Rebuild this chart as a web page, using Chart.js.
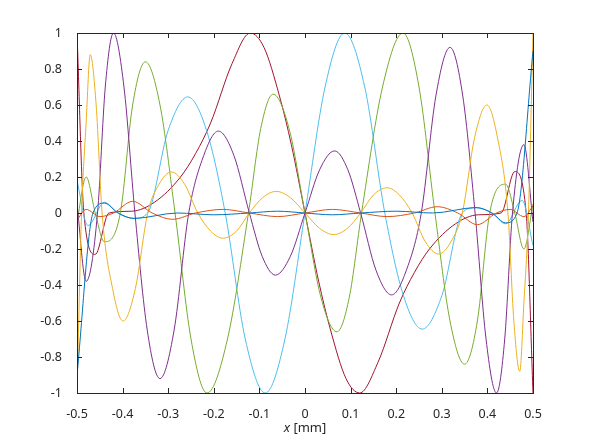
<!DOCTYPE html>
<html>
<head>
<meta charset="utf-8">
<script src="https://cdn.jsdelivr.net/npm/chart.js@4"></script>
<style>
  html, body { margin:0; padding:0; background:#fff; }
  #wrap { width:590px; height:442px; }
</style>
</head>
<body>
<div id="wrap"><canvas id="c" width="590" height="442"></canvas></div>
<script>
// --- datos (x en mm, amplitud normalizada) ---
const xTicks = [-0.5,-0.4,-0.3,-0.2,-0.1,0,0.1,0.2,0.3,0.4,0.5];
const yTicks = [-1,-0.8,-0.6,-0.4,-0.2,0,0.2,0.4,0.6,0.8,1];

const blueX = [-0.5,-0.465,-0.44,-0.41,-0.375,-0.28,-0.2,-0.122,-0.06,0,0.06,0.122,0.2,0.28,0.375,0.41,0.44,0.465,0.5];
const blueY = [-0.9,0,0.055,0,-0.03,0,-0.01,0,0.01,0,-0.01,0,0.01,0,0.03,0,-0.055,0,0.9];

const orangeX = [-0.5,-0.48,-0.45,-0.42,-0.378,-0.335,-0.29,-0.24,-0.18,-0.122,-0.06,0,0.06,0.122,0.18,0.24,0.29,0.335,0.378,0.42,0.45,0.48,0.5];
const orangeY = [-0.04,0.02,-0.02,0,0.065,0,-0.035,0,0.02,0,-0.02,0,0.02,0,-0.02,0,0.035,0,-0.065,0,0.02,-0.02,0.04];

const yellowX = [-0.5,-0.49,-0.48,-0.471,-0.458,-0.445,-0.422,-0.399,-0.372,-0.345,-0.32,-0.293,-0.264,-0.235,-0.207,-0.18,-0.15,-0.122,-0.093,-0.063,-0.032,0,0.032,0.063,0.093,0.122,0.15,0.18,0.207,0.235,0.264,0.293,0.32,0.345,0.372,0.399,0.422,0.445,0.458,0.471,0.48,0.49,0.5];
const yellowY = [-1,0,0.5,0.88,0.6,0,-0.42,-0.6,-0.42,0,0.16,0.228,0.16,0,-0.1,-0.14,-0.1,0,0.085,0.12,0.085,0,-0.085,-0.12,-0.085,0,0.1,0.14,0.1,0,-0.16,-0.228,-0.16,0,0.42,0.6,0.42,0,-0.6,-0.88,-0.5,0,1];

const purpleX = [-0.5,-0.48,-0.455,-0.438,-0.42,-0.397,-0.373,-0.346,-0.318,-0.287,-0.255,-0.222,-0.19,-0.156,-0.122,-0.094,-0.065,-0.032,0,0.032,0.065,0.094,0.122,0.156,0.19,0.222,0.255,0.287,0.318,0.346,0.373,0.397,0.42,0.438,0.455,0.48,0.5];
const purpleY = [0.05,-0.38,0,0.7,1,0.7,0,-0.65,-0.92,-0.65,0,0.32,0.455,0.32,0,-0.24,-0.345,-0.24,0,0.24,0.345,0.24,0,-0.32,-0.455,-0.32,0,0.65,0.92,0.65,0,-0.7,-1,-0.7,0,0.38,-0.05];

const greenX = [-0.5,-0.48,-0.46,-0.44,-0.405,-0.378,-0.35,-0.318,-0.285,-0.25,-0.215,-0.17,-0.124,-0.097,-0.07,-0.035,0,0.035,0.07,0.097,0.124,0.17,0.215,0.25,0.285,0.318,0.35,0.378,0.405,0.44,0.46,0.48,0.5];
const greenY = [-0.05,0.2,0,-0.16,0,0.6,0.84,0.6,0,-0.7,-1,-0.7,0,0.47,0.66,0.47,0,-0.47,-0.66,-0.47,0,0.7,1,0.7,0,-0.6,-0.84,-0.6,0,0.16,0,-0.2,0.05];

const cyanX = [-0.5,-0.476,-0.44,-0.41,-0.375,-0.345,-0.3,-0.257,-0.216,-0.175,-0.131,-0.087,-0.044,0,0.044,0.087,0.131,0.175,0.216,0.257,0.3,0.345,0.375,0.41,0.44,0.476,0.5];
const cyanY = [0.18,-0.07,0.06,0,-0.03,0,0.46,0.645,0.46,0,-0.7,-1,-0.7,0,0.7,1,0.7,0,-0.46,-0.645,-0.46,0,0.03,0,-0.06,0.07,-0.18];

const darkredX = [-0.5,-0.485,-0.46,-0.43,-0.38,-0.33,-0.273,-0.24,-0.207,-0.16,-0.12,-0.09,-0.056,-0.03,0,0.03,0.056,0.09,0.12,0.16,0.207,0.24,0.273,0.33,0.38,0.43,0.46,0.485,0.5];
const darkredY = [1,0,-0.23,0,0.01,0.06,0.2,0.33,0.5,0.83,1,0.92,0.65,0.38,0,-0.38,-0.65,-0.92,-1,-0.83,-0.5,-0.33,-0.2,-0.06,-0.01,0,0.23,0,-1];

// --- Helpers ---
function pts(xs, ys){ return xs.map((x,i)=> ({ x, y: ys[i] })); }
function fmt(v){ return String(Number(v.toFixed(1))); }

const series = [
  { xs: blueX,    ys: blueY,    color: '#0072BD' },
  { xs: orangeX,  ys: orangeY,  color: '#D95319' },
  { xs: yellowX,  ys: yellowY,  color: '#EDB120' },
  { xs: purpleX,  ys: purpleY,  color: '#7E2F8E' },
  { xs: greenX,   ys: greenY,   color: '#77AC30' },
  { xs: cyanX,    ys: cyanY,    color: '#4DBEEE' },
  { xs: darkredX, ys: darkredY, color: '#A2142F' }
];

// caja y marcas hacia dentro, estilo MATLAB
const boxPlugin = {
  id: 'box',
  afterDatasetsDraw(chart){
    const { ctx, chartArea: a, scales } = chart;
    ctx.save();
    ctx.strokeStyle = '#262626';
    ctx.lineWidth = 1;
    ctx.strokeRect(Math.round(a.left)+0.5, Math.round(a.top)+0.5, Math.round(a.right-a.left), Math.round(a.bottom-a.top));
    const L = 5;
    ctx.beginPath();
    xTicks.forEach(v => {
      const px = Math.round(scales.x.getPixelForValue(v)) + 0.5;
      ctx.moveTo(px, a.bottom); ctx.lineTo(px, a.bottom - L);
      ctx.moveTo(px, a.top); ctx.lineTo(px, a.top + L);
    });
    yTicks.forEach(v => {
      const py = Math.round(scales.y.getPixelForValue(v)) + 0.5;
      ctx.moveTo(a.left, py); ctx.lineTo(a.left + L, py);
      ctx.moveTo(a.right, py); ctx.lineTo(a.right - L, py);
    });
    ctx.stroke();
    // título del eje x con la x en cursiva
    const cx = (a.left + a.right) / 2;
    const ty = 428;
    ctx.fillStyle = '#262626';
    ctx.textBaseline = 'middle';
    ctx.font = 'italic 13px "Noto Sans"';
    const w1 = ctx.measureText('x').width;
    ctx.font = '13px "Noto Sans"';
    const rest = ' [mm]';
    const w2 = ctx.measureText(rest).width;
    const x0 = cx - (w1 + w2) / 2;
    ctx.textAlign = 'left';
    ctx.font = 'italic 13px "Noto Sans"';
    ctx.fillText('x', x0, ty);
    ctx.font = '13px "Noto Sans"';
    ctx.fillText(rest, x0 + w1, ty);
    ctx.restore();
  }
};

new Chart(document.getElementById('c'), {
  type: 'line',
  data: {
    datasets: series.map(s => ({
      data: pts(s.xs, s.ys),
      borderColor: s.color,
      borderWidth: 1,
      pointRadius: 0,
      fill: false,
      cubicInterpolationMode: 'monotone'
    }))
  },
  options: {
    responsive: false,
    animation: false,
    devicePixelRatio: 1,
    layout: { padding: { left: 0, top: 33, right: 57, bottom: 0 } },
    plugins: { legend: { display:false }, tooltip: { enabled:false } },
    scales: {
      x: {
        type: 'linear', min: -0.5, max: 0.5,
        grid: { display:false }, border: { display:false },
        afterBuildTicks: (sc) => { sc.ticks = xTicks.map(v => ({ value: v })); },
        afterFit: (sc) => { sc.height = 49; },
        ticks: { callback: v => fmt(v), color:'#262626', padding: 6, maxRotation: 0, autoSkip:false, font: { family:'Noto Sans', size: 12.5 } }
      },
      y: {
        min: -1, max: 1,
        grid: { display:false }, border: { display:false },
        afterBuildTicks: (sc) => { sc.ticks = yTicks.map(v => ({ value: v })); },
        afterFit: (sc) => { sc.width = 77; },
        ticks: { callback: v => fmt(v), color:'#262626', padding: 7, autoSkip:false, font: { family:'Noto Sans', size: 12.5 } }
      }
    }
  },
  plugins: [boxPlugin]
});
</script>
</body>
</html>
